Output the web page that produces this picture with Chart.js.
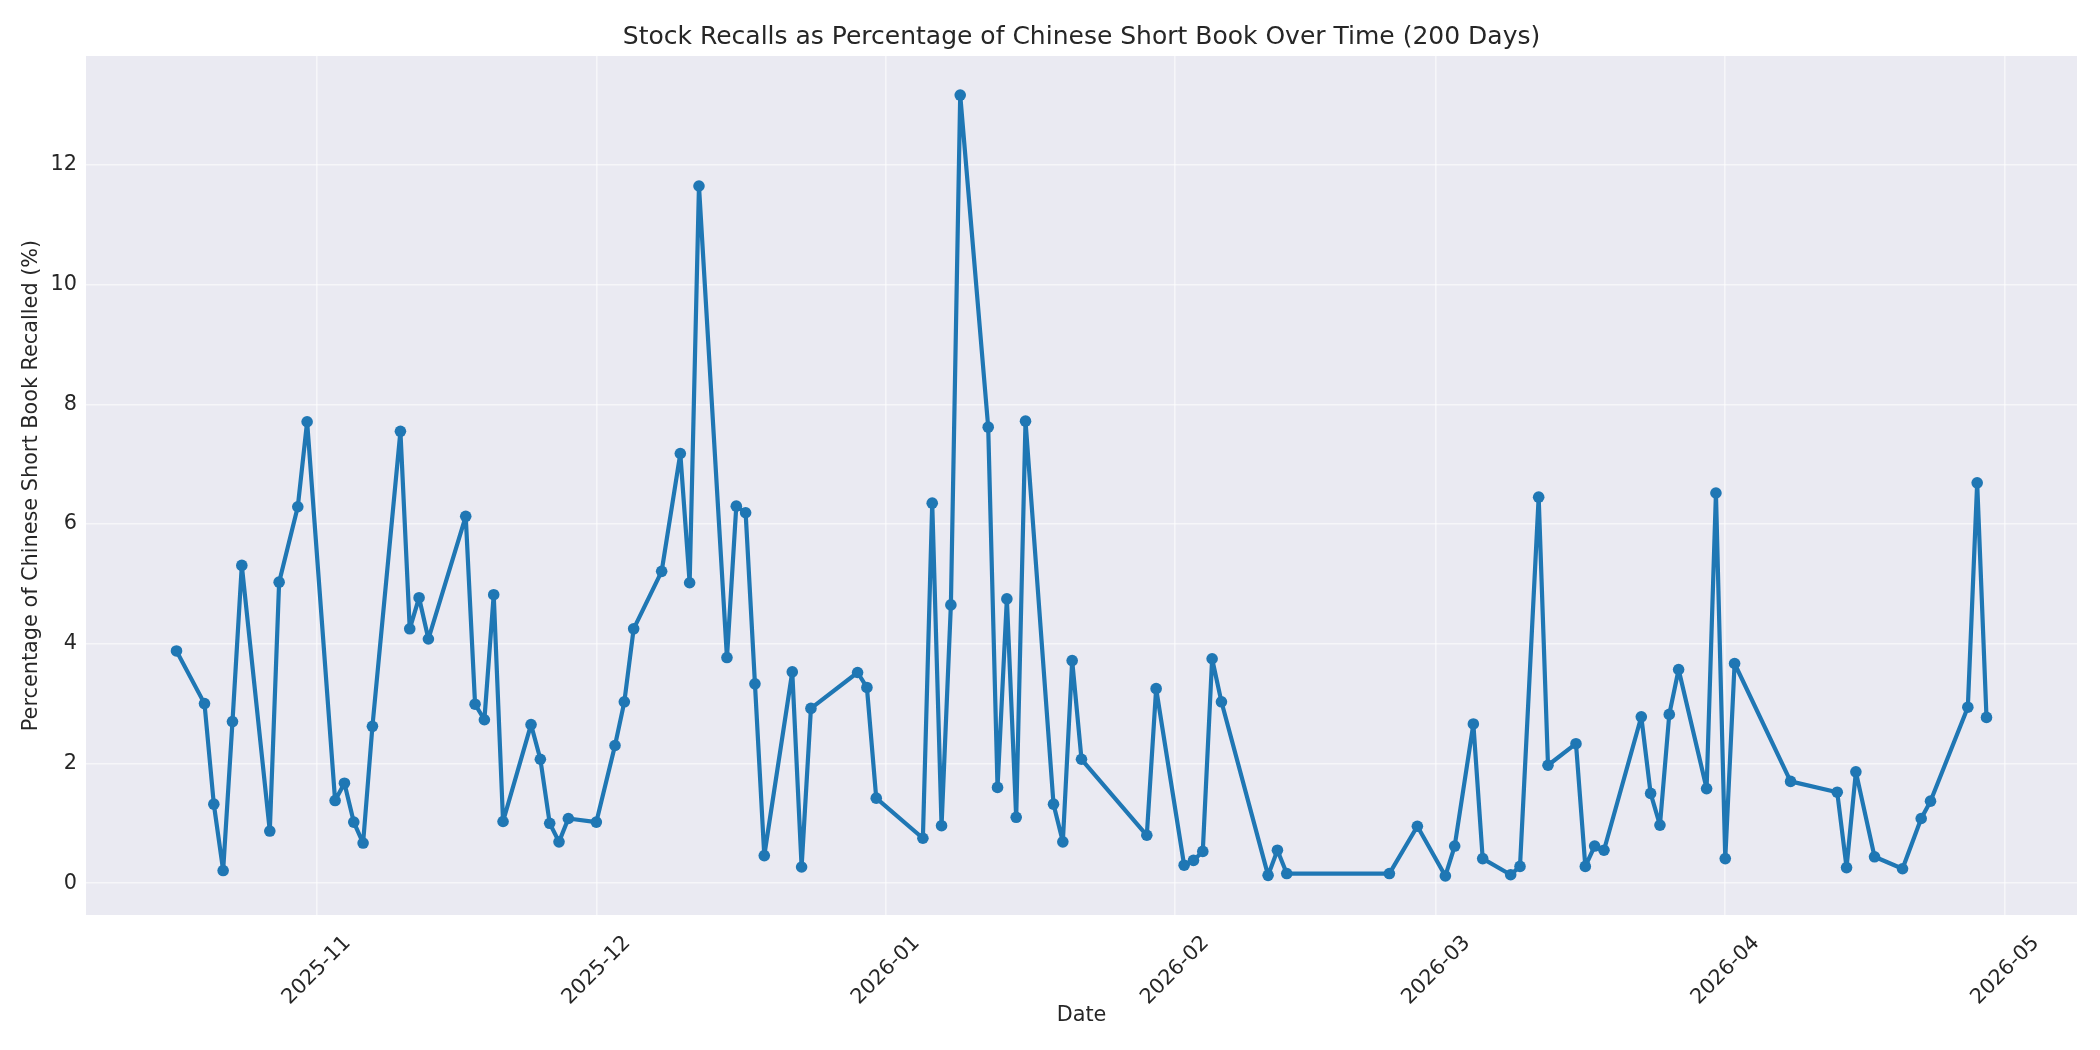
<!DOCTYPE html>
<html>
<head>
<meta charset="utf-8">
<title>Stock Recalls as Percentage of Chinese Short Book</title>
<script src="https://cdn.jsdelivr.net/npm/chart.js@4.4.1/dist/chart.umd.min.js"></script>
<style>
    html, body { margin: 0; padding: 0; background: #ffffff; }
    #wrap { width: 2100px; height: 1050px; }
</style>
</head>
<body>
<div id="wrap"><canvas id="recallChart" width="2100" height="1050"></canvas></div>
<script>
// Data (business days with data)
const dates = [
    '2025-10-17', '2025-10-20', '2025-10-21', '2025-10-22', '2025-10-23', '2025-10-24',
    '2025-10-27', '2025-10-28', '2025-10-30', '2025-10-31',
    '2025-11-03', '2025-11-04', '2025-11-05', '2025-11-06', '2025-11-07',
    '2025-11-10', '2025-11-11', '2025-11-12', '2025-11-13',
    '2025-11-17', '2025-11-18', '2025-11-19', '2025-11-20', '2025-11-21',
    '2025-11-24', '2025-11-25', '2025-11-26', '2025-11-27', '2025-11-28',
    '2025-12-01', '2025-12-03', '2025-12-04', '2025-12-05',
    '2025-12-08', '2025-12-10', '2025-12-11', '2025-12-12',
    '2025-12-15', '2025-12-16', '2025-12-17', '2025-12-18', '2025-12-19',
    '2025-12-22', '2025-12-23', '2025-12-24',
    '2025-12-29', '2025-12-30', '2025-12-31',
    '2026-01-05', '2026-01-06', '2026-01-07', '2026-01-08', '2026-01-09',
    '2026-01-12', '2026-01-13', '2026-01-14', '2026-01-15', '2026-01-16',
    '2026-01-19', '2026-01-20', '2026-01-21', '2026-01-22',
    '2026-01-29', '2026-01-30',
    '2026-02-02', '2026-02-03', '2026-02-04', '2026-02-05', '2026-02-06',
    '2026-02-11', '2026-02-12', '2026-02-13',
    '2026-02-24', '2026-02-27',
    '2026-03-02', '2026-03-03', '2026-03-05', '2026-03-06',
    '2026-03-09', '2026-03-10', '2026-03-12', '2026-03-13',
    '2026-03-16', '2026-03-17', '2026-03-18', '2026-03-19',
    '2026-03-23', '2026-03-24', '2026-03-25', '2026-03-26', '2026-03-27',
    '2026-03-30', '2026-03-31', '2026-04-01', '2026-04-02',
    '2026-04-08', '2026-04-13', '2026-04-14', '2026-04-15', '2026-04-17',
    '2026-04-20', '2026-04-22', '2026-04-23',
    '2026-04-27', '2026-04-28', '2026-04-29'
];

const recallPct = [
    3.88, 3.00, 1.32, 0.21, 2.70, 5.31,
    0.87, 5.03, 6.29, 7.71,
    1.38, 1.67, 1.02, 0.67, 2.62,
    7.55, 4.25, 4.77, 4.08,
    6.13, 2.99, 2.73, 4.82, 1.03,
    2.65, 2.07, 1.00, 0.69, 1.08,
    1.02, 2.30, 3.03, 4.25,
    5.21, 7.18, 5.02, 11.65,
    3.77, 6.30, 6.19, 3.33, 0.46,
    3.53, 0.27, 2.92,
    3.52, 3.27, 1.42,
    0.75, 6.35, 0.96, 4.65, 13.17,
    7.62, 1.60, 4.75, 1.10, 7.72,
    1.32, 0.69, 3.72, 2.07,
    0.80, 3.25,
    0.30, 0.38, 0.53, 3.75, 3.03,
    0.13, 0.55, 0.16,
    0.16, 0.95,
    0.12, 0.62, 2.66, 0.41,
    0.14, 0.28, 6.45, 1.97,
    2.33, 0.28, 0.62, 0.55,
    2.78, 1.50, 0.97, 2.82, 3.57,
    1.58, 6.52, 0.41, 3.67,
    1.70, 1.52, 0.26, 1.86, 0.44,
    0.24, 1.08, 1.37,
    2.94, 6.69, 2.77
];

const monthTicks = ['2025-11', '2025-12', '2026-01', '2026-02', '2026-03', '2026-04', '2026-05'];
const yTicks = [0, 2, 4, 6, 8, 10, 12];

const TEXT_COLOR = '#262626';
const LINE_COLOR = '#1f77b4';
const FONT = "'DejaVu Sans', 'Liberation Sans', sans-serif";

const points = dates.map((d, i) => ({ x: Date.parse(d), y: recallPct[i] }));
const monthPos = monthTicks.map(m => Date.parse(m + '-01'));

// matplotlib style 5% margins
const xFirst = points[0].x;
const xLast = points[points.length - 1].x;
const xPad = (xLast - xFirst) * 0.05;
const yLo = Math.min(...recallPct);
const yHi = Math.max(...recallPct);
const yPad = (yHi - yLo) * 0.05;

// Fill the axes area like seaborn darkgrid, and center the title over the axes
const plotBackground = {
    id: 'plotBackground',
    afterLayout(chart) {
        const title = chart.titleBlock;
        if (title) {
            title.left = chart.chartArea.left;
            title.right = chart.chartArea.right;
            title.width = chart.chartArea.right - chart.chartArea.left;
        }
    },
    beforeDraw(chart) {
        const { ctx, chartArea } = chart;
        ctx.save();
        ctx.fillStyle = '#EAEAF2';
        ctx.fillRect(chartArea.left, chartArea.top, chartArea.right - chartArea.left, chartArea.bottom - chartArea.top);
        ctx.restore();
    }
};

new Chart(document.getElementById('recallChart'), {
    type: 'line',
    data: {
        datasets: [{
            label: 'Recall %',
            data: points,
            borderColor: LINE_COLOR,
            backgroundColor: LINE_COLOR,
            borderWidth: 4.2,
            borderJoinStyle: 'round',
            borderCapStyle: 'round',
            tension: 0,
            pointRadius: 5.8,
            pointBorderWidth: 0,
            pointBackgroundColor: LINE_COLOR,
            fill: false
        }]
    },
    options: {
        responsive: false,
        animation: false,
        devicePixelRatio: 1,
        layout: {
            padding: { left: 10, right: 23, top: 0, bottom: 10 }
        },
        plugins: {
            legend: { display: false },
            tooltip: { enabled: false },
            title: {
                display: true,
                text: 'Stock Recalls as Percentage of Chinese Short Book Over Time (200 Days)',
                color: TEXT_COLOR,
                font: { family: FONT, size: 25, weight: 'normal' },
                padding: { top: 22, bottom: 4 }
            }
        },
        scales: {
            x: {
                type: 'linear',
                min: xFirst - xPad,
                max: xLast + xPad,
                afterBuildTicks: (scale) => {
                    scale.ticks = monthPos.map(v => ({ value: v }));
                },
                afterFit: (scale) => {
                    scale.height = 125;
                },
                grid: {
                    color: 'rgba(255, 255, 255, 0.55)',
                    lineWidth: 1.6,
                    drawTicks: false
                },
                border: { display: false },
                ticks: {
                    autoSkip: false,
                    minRotation: 45,
                    maxRotation: 45,
                    padding: 16,
                    labelOffset: 31,
                    color: TEXT_COLOR,
                    font: { family: FONT, size: 20.8 },
                    callback: (value) => {
                        const idx = monthPos.indexOf(value);
                        return idx >= 0 ? monthTicks[idx] : '';
                    }
                },
                title: {
                    display: true,
                    text: 'Date',
                    color: TEXT_COLOR,
                    font: { family: FONT, size: 20.8 },
                    padding: { top: 0, bottom: 12 }
                }
            },
            y: {
                type: 'linear',
                min: yLo - yPad,
                max: yHi + yPad,
                afterBuildTicks: (scale) => {
                    scale.ticks = yTicks.map(v => ({ value: v }));
                },
                afterFit: (scale) => {
                    scale.width = 76;
                },
                grid: {
                    color: 'rgba(255, 255, 255, 0.55)',
                    lineWidth: 1.6,
                    drawTicks: false
                },
                border: { display: false },
                ticks: {
                    padding: 9,
                    color: TEXT_COLOR,
                    font: { family: FONT, size: 20.8 },
                    callback: (value) => String(value)
                },
                title: {
                    display: true,
                    text: 'Percentage of Chinese Short Book Recalled (%)',
                    color: TEXT_COLOR,
                    font: { family: FONT, size: 20.8 },
                    padding: { top: 9, bottom: 0 }
                }
            }
        }
    },
    plugins: [plotBackground]
});
</script>
</body>
</html>
